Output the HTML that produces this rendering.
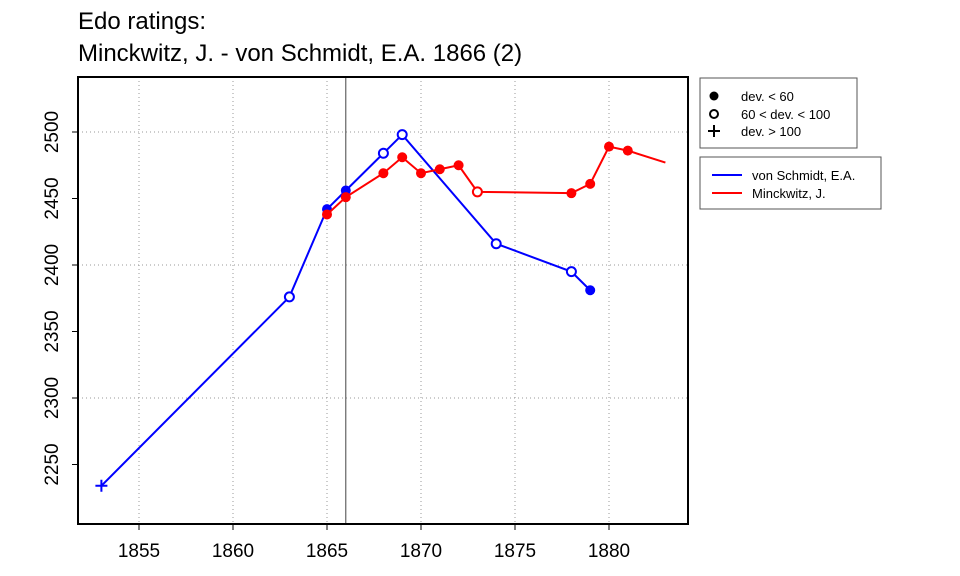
<!DOCTYPE html>
<html><head><meta charset="utf-8"><style>
body{margin:0;background:#fff}
svg{display:block;font-family:"Liberation Sans",Arial,sans-serif}
</style></head><body>
<svg id="c" width="960" height="576" xmlns="http://www.w3.org/2000/svg">
<text x="78" y="29" font-size="24">Edo ratings:</text>
<text x="78" y="61" font-size="24">Minckwitz, J. - von Schmidt, E.A. 1866 (2)</text>
<g id="grid"></g>
<g id="axes"></g>
<g id="series"></g>
<rect x="78" y="77" width="610" height="447" fill="none" stroke="#000" stroke-width="2"/>
<g>
<rect x="700" y="78" width="157" height="70" fill="#fff" stroke="#555" stroke-width="1"/>
<circle cx="714" cy="96" r="4.5" fill="#000"/>
<circle cx="714" cy="114" r="4" fill="none" stroke="#000" stroke-width="2"/>
<path d="M708 131h12M714 125v12" stroke="#000" stroke-width="2"/>
<text x="741" y="101" font-size="13">dev. &lt; 60</text>
<text x="741" y="119" font-size="13">60 &lt; dev. &lt; 100</text>
<text x="741" y="136" font-size="13">dev. &gt; 100</text>
</g>
<g>
<rect x="700" y="157" width="181" height="52" fill="#fff" stroke="#555" stroke-width="1"/>
<path d="M712 175h30" stroke="#00f" stroke-width="2"/>
<path d="M712 193h30" stroke="#f00" stroke-width="2"/>
<text x="752" y="180" font-size="13">von Schmidt, E.A.</text>
<text x="752" y="198" font-size="13">Minckwitz, J.</text>
</g>
</svg>
<script>
const xTicks=[1855,1860,1865,1870,1875,1880];
const yTicks=[2250,2300,2350,2400,2450,2500];
const yGrid=[2300,2400,2500];
const blueYears=[1853,1863,1865,1866,1868,1869,1874,1878,1879];
const blueVals=[2234,2376,2442,2456,2484,2498,2416,2395,2381];
const blueType=['p','o','f','f','o','o','o','o','f'];
const redYears=[1865,1866,1868,1869,1870,1871,1872,1873,1878,1879,1880,1881,1883];
const redVals=[2438,2451,2469,2481,2469,2472,2475,2455,2454,2461,2489,2486,2477];
const redType=['f','f','f','f','f','f','f','o','f','f','f','f','n'];
const gameYear=1866;
const NS='http://www.w3.org/2000/svg';
const X=v=>139+(v-1855)*18.8;
const Y=v=>132+(2500-v)*1.33;
function mk(t,a,p){const e=document.createElementNS(NS,t);for(const k in a)e.setAttribute(k,a[k]);p.appendChild(e);return e;}
const g=document.getElementById('grid'),ax=document.getElementById('axes'),s=document.getElementById('series');
xTicks.forEach(t=>{
 const l=mk('line',{x1:X(t),x2:X(t),y1:77,y2:524,stroke:'#999','stroke-dasharray':'1 3'},g);
 
 
 mk('line',{x1:X(t),x2:X(t),y1:524,y2:530,stroke:'#000'},ax);
 const tx=mk('text',{x:X(t),y:557,'font-size':19,'text-anchor':'middle'},ax);tx.textContent=t;
 
 
});
yGrid.forEach(t=>{
 const l=mk('line',{x1:78,x2:688,y1:Y(t),y2:Y(t),stroke:'#999','stroke-dasharray':'1 3'},g);
 
 
});
yTicks.forEach(t=>{
 mk('line',{x1:72,x2:78,y1:Y(t),y2:Y(t),stroke:'#000'},ax);
 const tx=mk('text',{x:58,y:Y(t),'font-size':19,'text-anchor':'middle',transform:`rotate(-90 58 ${Y(t)})`},ax);tx.textContent=t;
 
 
});
const gl=mk('line',{x1:X(gameYear),x2:X(gameYear),y1:77,y2:524,stroke:'#444','stroke-width':1},g);


function draw(ys,vs,ts,col,name){
 const pl=mk('polyline',{points:ys.map((y,i)=>X(y)+','+Y(vs[i])).join(' '),fill:'none',stroke:col,'stroke-width':2},s);
 
 
 ys.forEach((y,i)=>{
  const cx=X(y),cy=Y(vs[i]);let m;
  if(ts[i]==='f')m=mk('circle',{cx,cy,r:5,fill:col},s);
  else if(ts[i]==='o')m=mk('circle',{cx,cy,r:4.5,fill:'#fff',stroke:col,'stroke-width':2},s);
  else if(ts[i]==='p')m=mk('path',{d:`M${cx-6} ${cy}h12M${cx} ${cy-6}v12`,stroke:col,'stroke-width':2},s);
  else return;
  
  
 });
}
draw(blueYears,blueVals,blueType,'#00f','von-schmidt');
draw(redYears,redVals,redType,'#f00','minckwitz');
</script>
</body></html>
